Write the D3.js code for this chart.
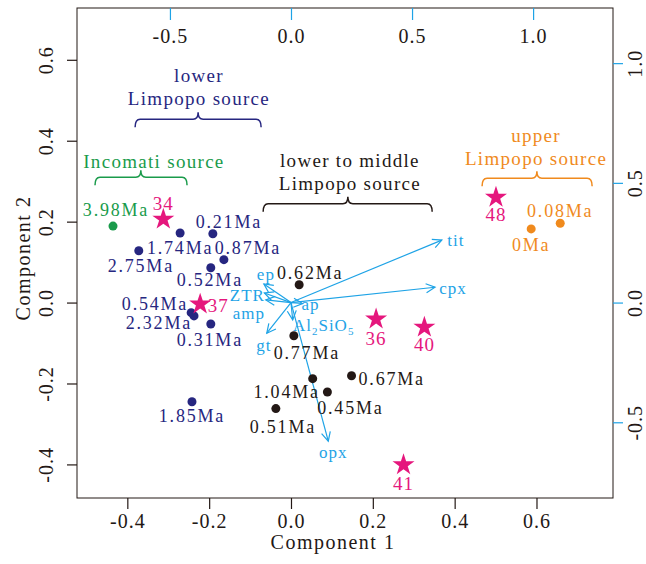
<!DOCTYPE html>
<html lang="en">
<head>
<meta charset="utf-8">
<script src="https://cdn.jsdelivr.net/npm/d3@7"></script>
<style type="text/css">
body { margin: 0; background: #fff; }
svg text { font-family: "Liberation Serif", "Times New Roman", serif; }
</style>
</head>
<body>
<script type="text/javascript">

// chart size
var width = 646;
var height = 564;
var margin = {left: 77, right: 33, top: 8, bottom: 66};

// ---- data ----
// dated samples (Component 1, Component 2)
var sampleAge   = ["3.98Ma", "0.21Ma", "1.74Ma", "2.75Ma", "0.87Ma", "0.52Ma", "0.54Ma", "2.32Ma", "0.31Ma", "1.85Ma",
                   "0.62Ma", "0.77Ma", "1.04Ma", "0.67Ma", "0.45Ma", "0.51Ma", "0.08Ma", "0Ma"];
var sampleGroup = ["incomati", "lower", "lower", "lower", "lower", "lower", "lower", "lower", "lower", "lower",
                   "middle", "middle", "middle", "middle", "middle", "middle", "upper", "upper"];
var samplePc1   = [-0.435, -0.191, -0.271, -0.372, -0.164, -0.196, -0.244, -0.237, -0.196, -0.242,
                   0.020, 0.007, 0.053, 0.148, 0.089, -0.037, 0.658, 0.587];
var samplePc2   = [0.189, 0.170, 0.172, 0.128, 0.106, 0.086, -0.025, -0.033, -0.053, -0.245,
                   0.044, -0.082, -0.188, -0.181, -0.221, -0.262, 0.196, 0.182];

// river sand samples (stars)
var starId  = ["34", "37", "36", "40", "41", "48"];
var starPc1 = [-0.312, -0.222, 0.208, 0.326, 0.275, 0.501];
var starPc2 = [0.206, -0.004, -0.041, -0.061, -0.401, 0.260];

// mineral loadings (top / right axes)
var loadName = ["tit", "cpx", "opx", "ep", "ZTR", "amp", "ap", "Al2SiO5", "gt"];
var loadPc1  = [0.623, 0.595, 0.154, -0.112, -0.110, -0.104, 0.048, 0.007, -0.100];
var loadPc2  = [0.261, 0.064, -0.579, 0.078, 0.040, 0.011, -0.004, -0.072, -0.128];

// source brackets: x from, x to, x of the peak, y of the bar (Component 1/2 units)
var braceGroup = ["lower", "incomati", "middle", "upper"];
var braceX0    = [-0.381, -0.479, -0.068, 0.467];
var braceX1    = [-0.073, -0.254, 0.345, 0.736];
var braceXm    = [-0.227, -0.367, 0.139, 0.601];
var braceY     = [0.453, 0.310, 0.244, 0.307];
var braceText  = [["lower", "Limpopo source"], ["Incomati source"], ["lower to middle", "Limpopo source"], ["upper", "Limpopo source"]];
var braceTextX = [-0.225, -0.335, 0.144, 0.599];
var braceTextY = [0.562, 0.348, 0.352, 0.414];

// ticks
var xTicks  = [-0.4, -0.2, 0.0, 0.2, 0.4, 0.6];
var yTicks  = [-0.4, -0.2, 0.0, 0.2, 0.4, 0.6];
var x2Ticks = [-0.5, 0.0, 0.5, 1.0];
var y2Ticks = [-0.5, 0.0, 0.5, 1.0];

// ---- styles / layout ----
var colors = {incomati: "#1a9b4b", lower: "#262680", middle: "#231815", upper: "#f08a1d"};
var starColor = "#e5177d";
var loadColor = "#1ea3e6";

// label offsets in px from each point [dx, dy, anchor]
var sampleLabelPos = [[3, -16, "middle"], [16, -12, "middle"], [0, 15, "middle"], [2, 15, "middle"], [24, -12, "middle"],
                      [-1, 12, "middle"], [-3, -9, "end"], [-2, 7, "end"], [-1, 16, "middle"], [0, 14, "middle"],
                      [11, -12, "middle"], [13, 17, "middle"], [-26, 13, "middle"], [7, 3, "start"], [23, 16, "middle"],
                      [7, 18, "middle"], [0, -13, "middle"], [0, 16, "middle"]];
var starLabelPos = [[0, -16], [18, 1], [0, 19], [0, 17], [0, 19], [0, 17]];
var loadLabelPos = [[14, 0, "middle"], [18, 1, "middle"], [5, 11, "middle"], [2, -10, "middle"], [-17, 2, "middle"],
                    [-17, 13, "middle"], [8, 1, "middle"], [31, 5, "middle"], [-3, 12, "middle"]];

// scales
var x = d3.scaleLinear().domain([-0.523, 0.787]).range([margin.left, width - margin.right]);
var y = d3.scaleLinear().domain([-0.483, 0.728]).range([height - margin.bottom, margin.top]);
var k = 1.69;
var x2 = d3.scaleLinear().domain(x.domain().map(function(d) { return d * k; })).range(x.range());
var y2 = d3.scaleLinear().domain(y.domain().map(function(d) { return d * k; })).range(y.range());

var fmt = function(d) { return d.toFixed(1); };

var svg = d3.select("body").append("svg")
	.attr("width", width)
	.attr("height", height);

// frame
svg.append("rect")
	.attr("x", margin.left)
	.attr("y", margin.top)
	.attr("width", width - margin.left - margin.right)
	.attr("height", height - margin.top - margin.bottom)
	.attr("fill", "none")
	.attr("stroke", "#231815")
	.attr("stroke-width", 1);

function styleAxis(g, tickColor) {
	g.select(".domain").remove();
	g.selectAll(".tick line").attr("stroke", tickColor).attr("stroke-width", 1.2);
	g.selectAll(".tick text")
		.attr("fill", "#231815")
		.style("font-size", "20px")
		.style("letter-spacing", "1px");
}

// bottom axis
var gx = svg.append("g")
	.attr("transform", "translate(0," + (height - margin.bottom) + ")")
	.call(d3.axisBottom(x).tickValues(xTicks).tickFormat(fmt).tickSize(11).tickPadding(5));
styleAxis(gx, "#231815");

// top axis, ticks hang inside the frame
var gx2 = svg.append("g")
	.attr("transform", "translate(0," + margin.top + ")")
	.call(d3.axisBottom(x2).tickValues(x2Ticks).tickFormat(fmt).tickSize(12).tickPadding(9));
styleAxis(gx2, loadColor);

// left axis, rotated labels
var gy = svg.append("g")
	.attr("transform", "translate(" + margin.left + ",0)")
	.call(d3.axisLeft(y).tickValues(yTicks).tickFormat(fmt).tickSize(10));
styleAxis(gy, "#231815");
gy.selectAll(".tick text")
	.attr("transform", "rotate(-90)")
	.attr("x", 0).attr("y", -31).attr("dy", "0.35em")
	.attr("text-anchor", "middle");

// right axis, rotated labels
var gy2 = svg.append("g")
	.attr("transform", "translate(" + (width - margin.right) + ",0)")
	.call(d3.axisRight(y2).tickValues(y2Ticks).tickFormat(fmt).tickSize(10));
styleAxis(gy2, loadColor);
gy2.selectAll(".tick text")
	.attr("transform", "rotate(-90)")
	.attr("x", 0).attr("y", 22).attr("dy", "0.35em")
	.attr("text-anchor", "middle");

// axis titles
svg.append("text")
	.attr("x", 333).attr("y", height - 15)
	.attr("text-anchor", "middle")
	.attr("fill", "#231815")
	.style("font-size", "20px").style("letter-spacing", "1.5px")
	.text("Component 1");

svg.append("text")
	.attr("transform", "translate(23," + 258 + ") rotate(-90)")
	.attr("text-anchor", "middle")
	.attr("dy", "0.35em")
	.attr("fill", "#231815")
	.style("font-size", "20px").style("letter-spacing", "1.5px")
	.text("Component 2");

// brackets with captions
braceGroup.forEach(function(grp, i) {
	var x0 = x(braceX0[i]), x1 = x(braceX1[i]), xm = x(braceXm[i]), yb = y(braceY[i]);
	var r = 5;
	var p = "M" + x0 + "," + (yb + 8) +
		" Q" + x0 + "," + yb + " " + (x0 + r) + "," + yb +
		" L" + (xm - r) + "," + yb +
		" Q" + xm + "," + yb + " " + xm + "," + (yb - 7) +
		" Q" + xm + "," + yb + " " + (xm + r) + "," + yb +
		" L" + (x1 - r) + "," + yb +
		" Q" + x1 + "," + yb + " " + x1 + "," + (yb + 8);
	svg.append("path")
		.attr("d", p)
		.attr("fill", "none")
		.attr("stroke", colors[grp])
		.attr("stroke-width", 1.5);
	braceText[i].forEach(function(line, j) {
		svg.append("text")
			.attr("x", x(braceTextX[i]))
			.attr("y", y(braceTextY[i]) + j * 23)
			.attr("dy", "0.35em")
			.attr("text-anchor", "middle")
			.attr("fill", colors[grp])
			.style("font-size", "19px").style("letter-spacing", "1.3px")
			.text(line);
	});
});

// loading arrows
svg.append("defs").append("marker")
	.attr("id", "head")
	.attr("viewBox", "-10 -6 12 12")
	.attr("refX", 0).attr("refY", 0)
	.attr("markerUnits", "userSpaceOnUse")
	.attr("markerWidth", 12).attr("markerHeight", 12)
	.attr("orient", "auto")
	.append("path")
	.attr("d", "M-9,-4.5 L0,0 L-9,4.5")
	.attr("fill", "none")
	.attr("stroke", loadColor)
	.attr("stroke-width", 1.2);

var loads = loadName.map(function(n, i) { return {name: n, a: loadPc1[i], b: loadPc2[i], pos: loadLabelPos[i]}; });

svg.selectAll(".load")
	.data(loads)
	.enter()
	.append("line")
	.attr("class", "load")
	.attr("x1", x2(0)).attr("y1", y2(0))
	.attr("x2", function(d) { return x2(d.a); })
	.attr("y2", function(d) { return y2(d.b); })
	.attr("stroke", loadColor)
	.attr("stroke-width", 1.2)
	.attr("marker-end", "url(#head)");

var loadText = svg.selectAll(".loadtxt")
	.data(loads)
	.enter()
	.append("text")
	.attr("class", "loadtxt")
	.attr("x", function(d) { return x2(d.a) + d.pos[0]; })
	.attr("y", function(d) { return y2(d.b) + d.pos[1]; })
	.attr("dy", "0.35em")
	.attr("text-anchor", function(d) { return d.pos[2]; })
	.attr("fill", loadColor)
	.style("font-size", "17px").style("letter-spacing", "1px");

loadText.each(function(d) {
	var t = d3.select(this);
	if (d.name === "Al2SiO5") {
		t.append("tspan").text("Al");
		t.append("tspan").attr("font-size", "11px").attr("dy", "4").text("2");
		t.append("tspan").attr("dy", "-4").text("SiO");
		t.append("tspan").attr("font-size", "11px").attr("dy", "4").text("5");
	} else {
		t.text(d.name);
	}
});

// sample dots
var samples = sampleAge.map(function(a, i) {
	return {age: a, grp: sampleGroup[i], a: samplePc1[i], b: samplePc2[i], pos: sampleLabelPos[i]};
});

svg.selectAll(".dot")
	.data(samples)
	.enter()
	.append("circle")
	.attr("class", "dot")
	.attr("cx", function(d) { return x(d.a); })
	.attr("cy", function(d) { return y(d.b); })
	.attr("r", 4.5)
	.attr("fill", function(d) { return colors[d.grp]; });

svg.selectAll(".dotlabel")
	.data(samples)
	.enter()
	.append("text")
	.attr("class", "dotlabel")
	.attr("x", function(d) { return x(d.a) + d.pos[0]; })
	.attr("y", function(d) { return y(d.b) + d.pos[1]; })
	.attr("dy", "0.35em")
	.attr("text-anchor", function(d) { return d.pos[2]; })
	.attr("fill", function(d) { return colors[d.grp]; })
	.style("font-size", "18px").style("letter-spacing", "1.8px")
	.text(function(d) { return d.age; });

// stars
var stars = starId.map(function(s, i) { return {id: s, a: starPc1[i], b: starPc2[i], pos: starLabelPos[i]}; });

svg.selectAll(".star")
	.data(stars)
	.enter()
	.append("path")
	.attr("class", "star")
	.attr("transform", function(d) { return "translate(" + x(d.a) + "," + y(d.b) + ")"; })
	.attr("d", d3.symbol().type(d3.symbolStar).size(150))
	.attr("fill", starColor);

svg.selectAll(".starlabel")
	.data(stars)
	.enter()
	.append("text")
	.attr("class", "starlabel")
	.attr("x", function(d) { return x(d.a) + d.pos[0]; })
	.attr("y", function(d) { return y(d.b) + d.pos[1]; })
	.attr("dy", "0.35em")
	.attr("text-anchor", "middle")
	.attr("fill", starColor)
	.style("font-size", "19px").style("letter-spacing", "1px")
	.text(function(d) { return d.id; });

</script>
</body>
</html>
